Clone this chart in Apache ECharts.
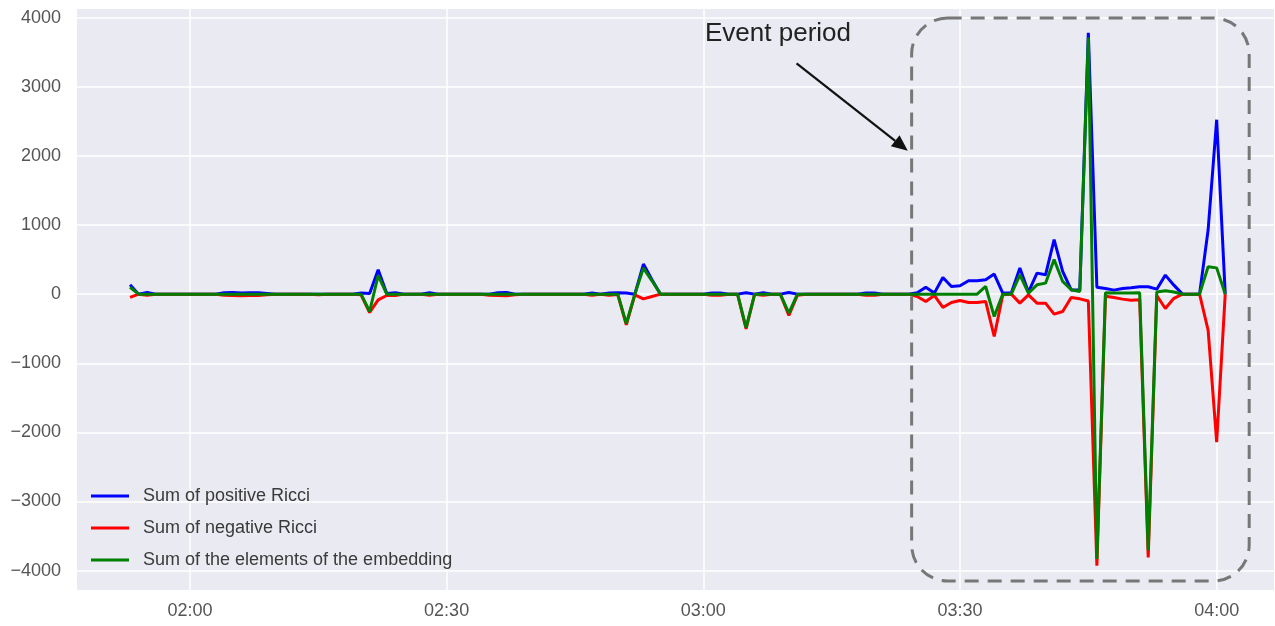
<!DOCTYPE html>
<html>
<head>
<meta charset="utf-8">
<script src="https://cdn.jsdelivr.net/npm/echarts@6/dist/echarts.min.js"></script>
<style>
html, body { margin: 0; padding: 0; background: #fff; }
#chartContainer { width: 1275px; height: 626px; }
</style>
</head>
<body>
<div id="chartContainer"></div>
<script>
// one sample per minute, first sample at 01:53 (minutes after midnight)
var startMinute = 113;

var positiveRicci = [
    135, 0, 25, 0, 0, 0, 0, 0, 0, 0,
    0, 20, 25, 15, 20, 20, 10, 0, 0, 0,
    0, 0, 0, 0, 0, 0, 0, 15, 10, 353,
    10, 20, 0, 0, 0, 20, 0, 0, 0, 0,
    0, 0, 0, 20, 25, 0, 0, 0, 0, 0,
    0, 0, 0, 0, 15, 0, 15, 20, 15, 0,
    435, 208, 0, 0, 0, 0, 0, 0, 15, 15,
    0, 0, 20, 0, 20, 0, 0, 25, 0, 0,
    0, 0, 0, 0, 0, 0, 15, 15, 0, 0,
    0, 0, 20, 101, 15, 242, 111, 121, 193, 193,
    208, 290, 15, 15, 377, 29, 304, 280, 790, 328,
    60, 60, 3780, 100, 82, 58, 82, 92, 106, 106,
    72, 275, 130, 0, 0, 0, 928, 2523, 0
];

var negativeRicci = [
    -48, 0, -15, 0, 0, 0, 0, 0, 0, 0,
    0, -15, -20, -25, -20, -20, -10, 0, 0, 0,
    0, 0, -10, 0, 0, 0, 0, -10, -266, -82,
    -20, -20, 0, 0, 0, -15, 0, 0, 0, 0,
    0, 0, -15, -20, -25, -10, 0, 0, 0, 0,
    0, 0, 0, 0, -15, 0, -15, -5, -445, -10,
    -68, -34, 0, 0, 0, 0, 0, 0, -15, -15,
    0, 0, -503, 0, -15, 0, 0, -309, -15, 0,
    0, 0, 0, 0, 0, 0, -15, -15, 0, 0,
    0, 0, -34, -106, -19, -193, -121, -92, -121, -121,
    -106, -613, -10, 0, -130, -10, -130, -130, -290, -251,
    -48, -68, -100, -3930, -29, -48, -72, -87, -80, -3809,
    -20, -208, -60, 0, 0, 0, -522, -2141, 0
];

var embeddingSum = [
    100, 0, 0, 0, 0, 0, 0, 0, 0, 0,
    0, 0, 0, 0, 0, 0, 0, 0, 0, 0,
    0, 0, 0, 0, 0, 0, 0, 0, -251, 271,
    0, 0, 0, 0, 0, 0, 0, 0, 0, 0,
    0, 0, 0, 0, 0, 0, 0, 0, 0, 0,
    0, 0, 0, 0, 0, 0, 0, 0, -425, 0,
    377, 193, 0, 0, 0, 0, 0, 0, 0, 0,
    0, 0, -483, 0, 0, 0, 0, -275, 0, 0,
    0, 0, 0, 0, 0, 0, 0, 0, 0, 0,
    0, 0, 0, 0, 0, 0, 0, 0, 0, 0,
    111, -324, 0, 0, 280, 15, 135, 159, 500, 184,
    63, 39, 3712, -3830, 20, 15, 15, 15, 20, -3703,
    30, 50, 30, 0, 0, 0, 396, 380, 0
];

var seriesNames = ['Sum of positive Ricci', 'Sum of negative Ricci', 'Sum of the elements of the embedding'];
var seriesColors = ['#0000ff', '#ff0000', '#008000'];

var xTicks = [120, 150, 180, 210, 240];   // 02:00 .. 04:00
var yTicks = [-4000, -3000, -2000, -1000, 0, 1000, 2000, 3000, 4000];

// annotation in data units: [minute, value]
var eventBox = { from: [204.35, 3995], to: [243.8, -4150] };
var arrowFrom = [190.9, 3340];
var arrowTo = [203.9, 2075];
var labelAt = [180.2, 3760];

var minutes = positiveRicci.map(function (v, i) { return startMinute + i; });

function pad(n) { return (n < 10 ? '0' : '') + n; }
function hhmm(m) { return pad(Math.floor(m / 60)) + ':' + pad(Math.round(m % 60)); }
function plain(v) { return v < 0 ? '\u2212' + Math.abs(v) : String(v); }
function pairs(values) { return values.map(function (v, i) { return [minutes[i], v]; }); }

var labelFont = "'Liberation Sans', Arial, sans-serif";

var myChart = echarts.init(document.getElementById('chartContainer'), null, { renderer: 'canvas' });

myChart.setOption({
    animation: false,
    backgroundColor: '#ffffff',
    grid: {
        left: 77, right: 1, top: 9, bottom: 36,
        show: true, backgroundColor: '#eaeaf2', borderWidth: 0
    },
    legend: {
        orient: 'vertical',
        left: 91, top: 485, padding: 0,
        itemWidth: 38, itemHeight: 3, itemGap: 10,
        icon: 'rect',
        textStyle: { fontFamily: labelFont, fontSize: 18, color: '#3a3a3a', lineHeight: 22, padding: [0, 0, 0, 9] },
        data: seriesNames
    },
    xAxis: {
        type: 'value',
        min: 106.8, max: 246.7,
        axisLine: { show: false },
        axisTick: { show: false, customValues: xTicks },
        axisLabel: {
            customValues: xTicks, margin: 12,
            fontFamily: labelFont, fontSize: 18, color: '#555555',
            formatter: hhmm
        },
        splitLine: { show: true, lineStyle: { color: '#ffffff', width: 1.5 } }
    },
    yAxis: {
        type: 'value',
        min: -4280, max: 4125,
        axisLine: { show: false },
        axisTick: { show: false, customValues: yTicks },
        axisLabel: { customValues: yTicks, margin: 16, fontFamily: labelFont, fontSize: 18, color: '#555555', formatter: plain },
        splitLine: { show: true, lineStyle: { color: '#ffffff', width: 1.5 } }
    },
    series: [positiveRicci, negativeRicci, embeddingSum].map(function (vals, k) {
        return {
            name: seriesNames[k],
            type: 'line',
            data: pairs(vals),
            symbol: 'none',
            color: seriesColors[k],
            lineStyle: { color: seriesColors[k], width: 3 }
        };
    })
});

// event period annotation, placed from data coordinates
function px(p) { return myChart.convertToPixel({ gridIndex: 0 }, p); }
var b0 = px(eventBox.from), b1 = px(eventBox.to);
var a0 = px(arrowFrom), a1 = px(arrowTo), lp = px(labelAt);
var dx = a1[0] - a0[0], dy = a1[1] - a0[1], len = Math.sqrt(dx * dx + dy * dy);
var ux = dx / len, uy = dy / len, headLen = 16, headW = 7;
var baseX = a1[0] - ux * headLen, baseY = a1[1] - uy * headLen;

myChart.setOption({
    graphic: [
        {
            type: 'rect', z: 100,
            shape: { x: b0[0], y: b0[1], width: b1[0] - b0[0], height: b1[1] - b0[1], r: 36 },
            style: { fill: null, stroke: '#777777', lineWidth: 3, lineDash: [14, 9] }
        },
        {
            type: 'line', z: 100,
            shape: { x1: a0[0], y1: a0[1], x2: baseX, y2: baseY },
            style: { stroke: '#111111', lineWidth: 2.2 }
        },
        {
            type: 'polygon', z: 100,
            shape: { points: [[a1[0], a1[1]], [baseX - uy * headW, baseY + ux * headW], [baseX + uy * headW, baseY - ux * headW]] },
            style: { fill: '#111111' }
        },
        {
            type: 'text', z: 100,
            x: lp[0], y: lp[1],
            style: { text: 'Event period', fill: '#222222', font: "26px 'Liberation Sans', Arial, sans-serif", verticalAlign: 'middle' }
        }
    ]
});
</script>
</body>
</html>
